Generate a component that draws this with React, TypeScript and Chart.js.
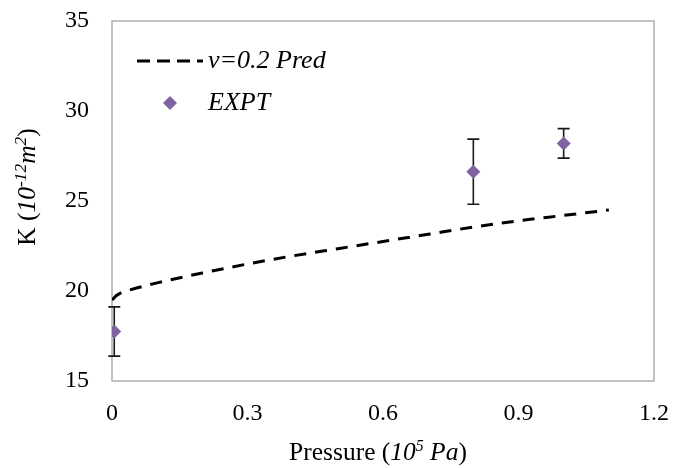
import React, { useEffect, useRef } from 'react';
import { Chart, registerables } from 'chart.js';

Chart.register(...registerables);

// ---- data ----
const predX = [0, 0.01, 0.02, 0.04, 0.1, 0.2, 0.3, 0.4, 0.5, 0.6, 0.7, 0.8, 0.9, 1.0, 1.1];
const predY = [19.5, 19.75, 19.9, 20.06, 20.45, 21.0, 21.5, 21.95, 22.35, 22.75, 23.15, 23.55, 23.9, 24.2, 24.5];
const exptX = [0.005, 0.8, 1.0];
const exptY = [17.75, 26.63, 28.2];
const exptErr = [1.37, 1.81, 0.82];
const xTicks = [0, 0.3, 0.6, 0.9, 1.2];
const yTicks = [15, 20, 25, 30, 35];
const seriesLabels = ['v=0.2 Pred', 'EXPT'];

const SERIF = '"Liberation Serif", "Times New Roman", serif';
const PURPLE = '#8064A2';

type Seg = { t: string; italic?: boolean; sup?: boolean };

function drawRich(ctx: CanvasRenderingContext2D, segs: Seg[], size: number, supScale: number, cx: number, cy: number, rot: number) {
  ctx.save();
  ctx.translate(cx, cy);
  ctx.rotate(rot);
  ctx.textBaseline = 'alphabetic';
  ctx.textAlign = 'left';
  ctx.fillStyle = '#000';
  const fontOf = (s: Seg) => `${s.italic ? 'italic ' : ''}${s.sup ? (size * supScale).toFixed(1) : size}px ${SERIF}`;
  let total = 0;
  const widths = segs.map((s) => {
    ctx.font = fontOf(s);
    const w = ctx.measureText(s.t).width;
    total += w;
    return w;
  });
  let x = -total / 2;
  const base = size * 0.33;
  segs.forEach((s, i) => {
    ctx.font = fontOf(s);
    ctx.fillText(s.t, x, s.sup ? base - size * 0.38 : base);
    x += widths[i];
  });
  ctx.restore();
}

const customPlugin = {
  id: 'custom',
  beforeDatasetsDraw(chart: any) {
    const { ctx, chartArea: a, scales } = chart;
    ctx.save();
    ctx.strokeStyle = '#9A9A9A';
    ctx.lineWidth = 1.2;
    ctx.strokeRect(a.left, a.top, a.right - a.left, a.bottom - a.top);
    // error bars
    ctx.strokeStyle = '#1a1a1a';
    ctx.lineWidth = 1.6;
    exptX.forEach((xv, i) => {
      const px = scales.x.getPixelForValue(xv);
      const top = scales.y.getPixelForValue(exptY[i] + exptErr[i]);
      const bot = scales.y.getPixelForValue(exptY[i] - exptErr[i]);
      ctx.beginPath();
      ctx.moveTo(px, top);
      ctx.lineTo(px, bot);
      ctx.moveTo(px - 6, top);
      ctx.lineTo(px + 6, top);
      ctx.moveTo(px - 6, bot);
      ctx.lineTo(px + 6, bot);
      ctx.stroke();
    });
    ctx.restore();
  },
  afterDraw(chart: any) {
    const { ctx } = chart;
    ctx.save();
    // legend
    ctx.strokeStyle = '#000';
    ctx.lineWidth = 3;
    ctx.setLineDash([13, 7]);
    ctx.beginPath();
    ctx.moveTo(137, 61);
    ctx.lineTo(203, 61);
    ctx.stroke();
    ctx.setLineDash([]);
    ctx.fillStyle = PURPLE;
    ctx.beginPath();
    ctx.moveTo(163, 103);
    ctx.lineTo(170, 96);
    ctx.lineTo(177, 103);
    ctx.lineTo(170, 110);
    ctx.closePath();
    ctx.fill();
    ctx.fillStyle = '#000';
    ctx.font = `italic 26px ${SERIF}`;
    ctx.textBaseline = 'middle';
    ctx.textAlign = 'left';
    ctx.fillText(chart.data.datasets[0].label, 208, 61);
    ctx.fillText(chart.data.datasets[1].label, 208, 103);
    ctx.restore();
    // axis titles
    drawRich(ctx, [
      { t: 'Pressure (' },
      { t: '10', italic: true },
      { t: '5', italic: true, sup: true },
      { t: ' Pa', italic: true },
      { t: ')' },
    ], 25.5, 0.62, 378, 452, 0);
    drawRich(ctx, [
      { t: 'K (' },
      { t: '10', italic: true },
      { t: '-12', italic: true, sup: true },
      { t: 'm', italic: true },
      { t: '2', italic: true, sup: true },
      { t: ')' },
    ], 25.5, 0.68, 27, 187, -Math.PI / 2);
  },
};

export default function App() {
  const ref = useRef<HTMLCanvasElement>(null);
  useEffect(() => {
    if (!ref.current) return;
    const chart = new Chart(ref.current, {
      type: 'scatter',
      data: {
        datasets: [
          {
            label: seriesLabels[0],
            data: predX.map((x, i) => ({ x, y: predY[i] })),
            showLine: true,
            borderColor: '#000',
            borderWidth: 3,
            borderDash: [12, 9],
            pointRadius: 0,
            cubicInterpolationMode: 'monotone',
          },
          {
            label: seriesLabels[1],
            data: exptX.map((x, i) => ({ x, y: exptY[i] })),
            showLine: false,
            pointStyle: 'rectRot',
            pointRadius: 7,
            pointBackgroundColor: PURPLE,
            pointBorderColor: PURPLE,
            pointBorderWidth: 0,
          },
        ],
      },
      options: {
        animation: false,
        responsive: false,
        layout: { padding: { top: 21, right: 19, left: 0, bottom: 0 } },
        plugins: { legend: { display: false }, tooltip: { enabled: false } },
        scales: {
          x: {
            type: 'linear',
            min: 0,
            max: 1.2,
            grid: { display: false, drawTicks: false },
            border: { display: false },
            afterBuildTicks: (s: any) => { s.ticks = xTicks.map((v) => ({ value: v })); },
            afterFit: (s: any) => { s.height = 87; s.paddingLeft = 0; s.paddingRight = 0; },
            ticks: {
              padding: 18,
              color: '#000',
              font: { family: SERIF, size: 24 },
              maxRotation: 0,
              callback: (v: any) => String(Math.round(Number(v) * 10) / 10),
            },
          },
          y: {
            type: 'linear',
            min: 15,
            max: 35,
            grid: { display: false, drawTicks: false },
            border: { display: false },
            afterBuildTicks: (s: any) => { s.ticks = yTicks.map((v) => ({ value: v })); },
            afterFit: (s: any) => { s.width = 112; s.paddingTop = 0; s.paddingBottom = 0; },
            ticks: {
              padding: 23,
              color: '#000',
              font: { family: SERIF, size: 24 },
              callback: (v: any) => String(v),
            },
          },
        },
      },
      plugins: [customPlugin],
    } as any);
    return () => chart.destroy();
  }, []);
  return (
    <div style={{ position: 'fixed', left: 0, top: 0, width: 673, height: 468, background: '#fff' }}>
      <canvas ref={ref} width={673} height={468} style={{ width: 673, height: 468, display: 'block' }} />
    </div>
  );
}
